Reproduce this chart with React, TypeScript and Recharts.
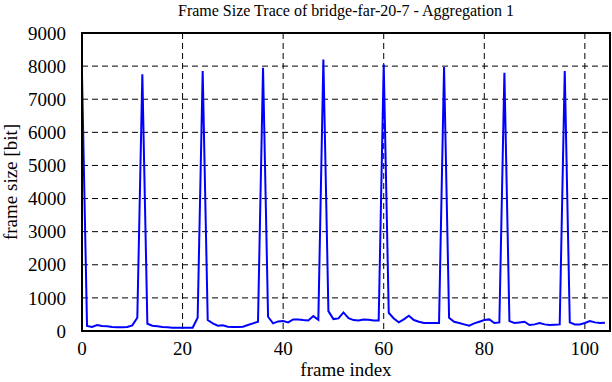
import React from "react";
import { LineChart, Line, XAxis, YAxis, CartesianGrid, ReferenceArea } from "recharts";

const frameIndex: number[] = Array.from({ length: 105 }, (_, i) => i);
const frameSize: number[] = [
  7750, 150, 120, 180, 150, 140, 120, 110, 110, 120,
  170, 400, 7750, 220, 160, 140, 120, 110, 100, 100,
  100, 100, 100, 400, 7850, 330, 230, 160, 170, 130,
  120, 120, 130, 180, 230, 280, 7950, 430, 230, 290,
  300, 260, 350, 350, 330, 320, 450, 340, 8200, 600,
  360, 380, 560, 390, 330, 320, 350, 340, 320, 320,
  8050, 550, 380, 260, 350, 460, 330, 280, 240, 240,
  240, 240, 7970, 400, 280, 240, 200, 160, 230, 280,
  330, 350, 240, 260, 7800, 300, 240, 260, 280, 180,
  200, 240, 200, 180, 190, 200, 7850, 260, 200, 200,
  240, 300, 260, 240, 250,
];
const xTicks: number[] = [0, 20, 40, 60, 80, 100];
const yTicks: number[] = [0, 1000, 2000, 3000, 4000, 5000, 6000, 7000, 8000, 9000];

const titleText = "Frame Size Trace of bridge-far-20-7 - Aggregation 1";
const xLabel = "frame index";
const yLabel = "frame size [bit]";

const data = frameIndex.map((f, i) => ({ frame: f, size: frameSize[i] }));

const FONT = "'Liberation Serif', 'Times New Roman', serif";

const XTick = (props: any) => {
  const { x, y, payload } = props;
  return (
    <text x={x} y={y} dy="0.71em" textAnchor="middle" fill="#000" fontSize={19} fontFamily={FONT} style={{ fontFamily: FONT }}>
      {payload.value}
    </text>
  );
};

const YTick = (props: any) => {
  const { x, y, payload } = props;
  return (
    <text x={x} y={y} dy="0.35em" textAnchor="end" fill="#000" fontSize={19} fontFamily={FONT} style={{ fontFamily: FONT }}>
      {payload.value}
    </text>
  );
};

const NoLabel = () => <g />;

export default function App() {
  return (
    <div style={{ position: "absolute", left: 0, top: 0, width: 612, height: 382, background: "#fff", fontFamily: FONT }}>
      <div style={{ position: "absolute", left: 82, width: 528, top: 0, textAlign: "center", fontSize: 16, lineHeight: "22px", color: "#000" }}>
        {titleText}
      </div>
      <LineChart width={612} height={382} data={data} margin={{ top: 33, right: 2, bottom: 21, left: 0 }} style={{ fontFamily: FONT }}>
        <CartesianGrid stroke="#000" strokeDasharray="6 4" strokeWidth={1} horizontalValues={yTicks} verticalValues={xTicks} />
        <XAxis
          dataKey="frame"
          type="number"
          domain={[0, 105]}
          ticks={xTicks}
          allowDataOverflow
          height={30}
          axisLine={{ stroke: "#000", strokeWidth: 2 }}
          tickLine={false}
          tickMargin={5}
          tick={XTick}
          label={{ value: xLabel, position: "insideBottom", offset: -15, fill: "#000", fontSize: 19, fontFamily: FONT, style: { fontFamily: FONT } }}
        />
        <XAxis
          xAxisId="top"
          orientation="top"
          dataKey="frame"
          type="number"
          domain={[0, 105]}
          ticks={xTicks}
          allowDataOverflow
          height={0}
          mirror
          axisLine={false}
          tickSize={6}
          tickLine={{ stroke: "#000", strokeWidth: 1 }}
          tick={NoLabel}
        />
        <XAxis
          xAxisId="bottomIn"
          orientation="bottom"
          dataKey="frame"
          type="number"
          domain={[0, 105]}
          ticks={xTicks}
          allowDataOverflow
          height={0}
          mirror
          axisLine={false}
          tickSize={6}
          tickLine={{ stroke: "#000", strokeWidth: 1 }}
          tick={NoLabel}
        />
        <YAxis
          type="number"
          domain={[0, 9000]}
          ticks={yTicks}
          allowDataOverflow
          width={82}
          axisLine={{ stroke: "#000", strokeWidth: 2 }}
          tickLine={false}
          tickMargin={10}
          tick={YTick}
          label={{ value: yLabel, angle: -90, position: "insideLeft", offset: 10, fill: "#000", fontSize: 19, fontFamily: FONT, style: { textAnchor: "middle", fontFamily: FONT } }}
        />
        <YAxis
          yAxisId="leftIn"
          orientation="left"
          type="number"
          domain={[0, 9000]}
          ticks={yTicks}
          allowDataOverflow
          width={0}
          mirror
          axisLine={false}
          tickSize={6}
          tickLine={{ stroke: "#000", strokeWidth: 1 }}
          tick={NoLabel}
        />
        <YAxis
          yAxisId="right"
          orientation="right"
          type="number"
          domain={[0, 9000]}
          ticks={yTicks}
          allowDataOverflow
          width={0}
          mirror
          axisLine={false}
          tickSize={6}
          tickLine={{ stroke: "#000", strokeWidth: 1 }}
          tick={NoLabel}
        />
        <ReferenceArea x1={0} x2={105} y1={0} y2={9000} fill="none" stroke="#000" strokeWidth={2} ifOverflow="visible" />
        <Line type="linear" dataKey="size" stroke="#0000ff" strokeWidth={2} dot={false} isAnimationActive={false} />
      </LineChart>
    </div>
  );
}
